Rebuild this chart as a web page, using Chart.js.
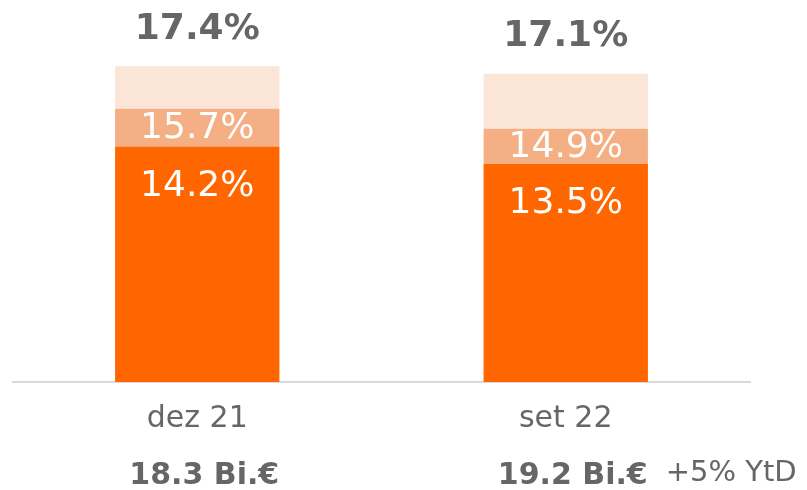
<!DOCTYPE html>
<html>
<head>
<meta charset="utf-8">
<script src="https://cdn.jsdelivr.net/npm/chart.js@4.4.0/dist/chart.umd.min.js"></script>
<style>
  html, body { margin: 0; padding: 0; background: #fff; }
  #wrap { width: 807px; height: 490px; }
</style>
</head>
<body>
<div id="wrap"><canvas id="ratioChart" width="807" height="490"></canvas></div>
<script>
const categories = ['dez 21', 'set 22'];
const cet1 = [14.2, 13.5];      // dark segment top
const tier1 = [15.7, 14.9];     // mid segment top
const total = [17.4, 17.1];     // bar total
const volumes = ['18.3 Bi.€', '19.2 Bi.€'];
const growthNote = '+5% YtD';

const grey = '#666666';
Chart.defaults.font.family = '"DejaVu Sans", Verdana, sans-serif';

// stacked pieces built from the read cumulative values
const seg1 = cet1.slice();
const seg2 = tier1.map(function (v, i) { return +(v - cet1[i]).toFixed(2); });
const seg3 = total.map(function (v, i) { return +(v - tier1[i]).toFixed(2); });

const labelsPlugin = {
  id: 'barLabels',
  afterDatasetsDraw: function (chart) {
    const ctx = chart.ctx;
    const m0 = chart.getDatasetMeta(0).data;
    const m1 = chart.getDatasetMeta(1).data;
    const m2 = chart.getDatasetMeta(2).data;
    ctx.save();
    ctx.textAlign = 'center';
    ctx.textBaseline = 'middle';
    categories.forEach(function (c, i) {
      // total on top
      ctx.fillStyle = grey;
      ctx.font = 'bold 36px "DejaVu Sans"';
      ctx.fillText(total[i].toFixed(1) + '%', m2[i].x, m2[i].y - 37);
      // middle segment
      ctx.fillStyle = '#ffffff';
      ctx.font = '36px "DejaVu Sans"';
      ctx.fillText(tier1[i].toFixed(1) + '%', m1[i].x, (m1[i].y + m1[i].base) / 2 + 1);
      // dark segment, near its top
      ctx.fillText(cet1[i].toFixed(1) + '%', m0[i].x, m0[i].y + 40);
      // volumes under the axis
      ctx.fillStyle = grey;
      ctx.font = 'bold 30px "DejaVu Sans"';
      ctx.fillText(volumes[i], m0[i].x + 7, 476);
    });
    const w = ctx.measureText(volumes[1]).width;
    ctx.font = '29px "DejaVu Sans"';
    ctx.textAlign = 'left';
    ctx.fillText(growthNote, m0[1].x + 7 + w / 2 + 18, 473);
    ctx.restore();
  }
};

new Chart(document.getElementById('ratioChart'), {
  type: 'bar',
  data: {
    labels: categories,
    datasets: [
      { data: seg1, backgroundColor: '#FF6600' },
      { data: seg2, backgroundColor: '#F4AF84' },
      { data: seg3, backgroundColor: '#FBE5D6' }
    ]
  },
  options: {
    responsive: false,
    animation: false,
    events: [],
    datasets: {
      bar: { categoryPercentage: 1, barPercentage: 0.446, borderWidth: 0 }
    },
    layout: { padding: { left: 13, right: 57, top: 1, bottom: 42 } },
    plugins: {
      legend: { display: false },
      tooltip: { enabled: false }
    },
    scales: {
      x: {
        stacked: true,
        grid: { display: false },
        border: { display: true, color: '#d9d9d9', width: 2 },
        ticks: { color: grey, font: { size: 30 }, padding: 11 }
      },
      y: {
        stacked: true,
        display: false,
        min: 4.8,
        max: 20
      }
    }
  },
  plugins: [labelsPlugin]
});
</script>
</body>
</html>
